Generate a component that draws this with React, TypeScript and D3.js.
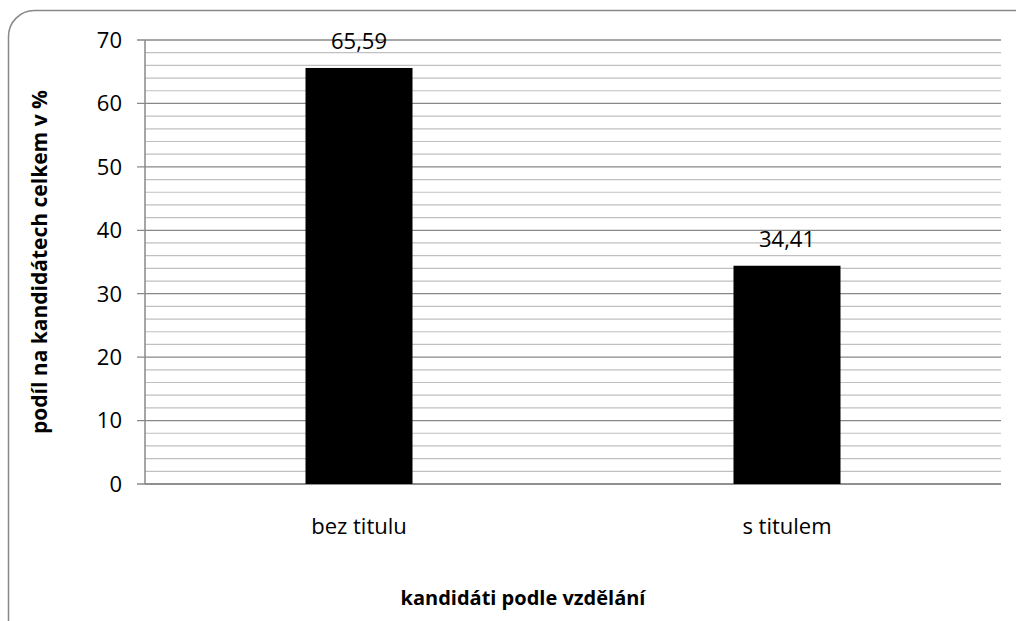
import React from "react";
import * as d3 from "d3";

const categories = ["bez titulu", "s titulem"];
const values = [65.59, 34.41];
const valueLabels = ["65,59", "34,41"];
const yTicks = [0, 10, 20, 30, 40, 50, 60, 70];
const minorTicks = d3.range(0, 71, 2);
const xTitle = "kandidáti podle vzdělání";
const yTitle = "podíl na kandidátech celkem v %";

const W = 1016;
const H = 621;
const plot = { left: 145, right: 1001, top: 40, bottom: 484 };
const font = "'Open Sans', 'Noto Sans', sans-serif";

export default function App() {
  const y = d3.scaleLinear().domain([0, 70]).range([plot.bottom, plot.top]);
  const x = d3.scaleBand<string>().domain(categories).range([plot.left, plot.right]).padding(0);
  const barW = x.bandwidth() * 0.25;

  return (
    <svg width={W} height={H} style={{ position: "absolute", left: 0, top: 0, background: "#fff" }}>
      <rect x={8.5} y={10.5} width={1040} height={640} rx={26} ry={26} fill="#fff" stroke="#888" strokeWidth={1.5} />
      {minorTicks.filter((t) => t % 10 !== 0).map((t) => (
        <line key={"m" + t} x1={plot.left} x2={plot.right} y1={y(t)} y2={y(t)} stroke="#c0c0c0" strokeWidth={1.2} />
      ))}
      {yTicks.map((t) => (
        <g key={"t" + t}>
          <line x1={plot.left - 8} x2={plot.right} y1={y(t)} y2={y(t)} stroke="#888" strokeWidth={1.3} />
          <text x={122} y={y(t)} dy="0.36em" textAnchor="end" fontFamily={font} fontSize={22} fill="#000">
            {t}
          </text>
        </g>
      ))}
      <line x1={plot.left} x2={plot.left} y1={plot.top} y2={plot.bottom} stroke="#888" strokeWidth={1.5} />
      <line x1={plot.left} x2={plot.right} y1={plot.bottom} y2={plot.bottom} stroke="#888" strokeWidth={1.5} />
      {categories.map((c, i) => {
        const cx = (x(c) as number) + x.bandwidth() / 2;
        return (
          <g key={c}>
            <rect x={cx - barW / 2} y={y(values[i])} width={barW} height={plot.bottom - y(values[i])} fill="#000" />
            <text x={cx} y={y(values[i]) - 19} textAnchor="middle" fontFamily={font} fontSize={22} fill="#000">
              {valueLabels[i]}
            </text>
            <text x={cx} y={534} textAnchor="middle" fontFamily={font} fontSize={22} fill="#000">
              {c}
            </text>
          </g>
        );
      })}
      <text x={523} y={605} textAnchor="middle" fontFamily={font} fontSize={20} fontWeight="bold" fill="#000">
        {xTitle}
      </text>
      <text
        transform={`translate(47, 262) rotate(-90)`}
        textAnchor="middle"
        fontFamily={font}
        fontSize={21}
        fontWeight="bold"
        fill="#000"
      >
        {yTitle}
      </text>
    </svg>
  );
}
